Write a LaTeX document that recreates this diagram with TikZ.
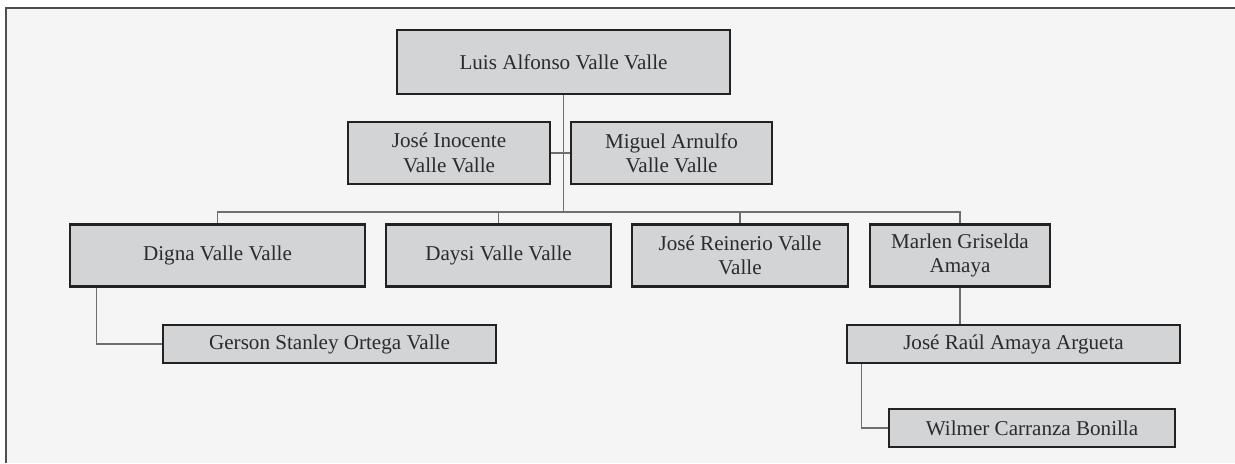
\documentclass[tikz,border=0pt]{standalone}
\usepackage{fontspec}
\setmainfont{Liberation Serif}
\usepackage{tikz}
\usetikzlibrary{calc, positioning}
\definecolor{PageGrey}{HTML}{F5F5F5}
\definecolor{BoxGrey}{HTML}{D3D4D6}
\definecolor{EdgeDark}{HTML}{222222}
\definecolor{TwigGrey}{HTML}{6E6E6E}
\definecolor{InkGrey}{HTML}{2B2B2B}

\begin{document}
\begin{tikzpicture}[
  x=0.025cm, y=-0.025cm,
  font=\fontsize{15}{17.4}\selectfont,
  namebox/.style={draw=EdgeDark, fill=BoxGrey, line width=2pt, text=InkGrey,
    align=center, inner sep=0pt, minimum height=1.55cm},
  slimbox/.style={namebox, minimum height=0.95cm},
  twig/.style={draw=TwigGrey, line width=0.75pt}
]
\useasboundingbox (0,0) rectangle (1235,463);
\fill[PageGrey] (6,8) rectangle (1235,463);
\draw[EdgeDark!80, line width=1.4pt] (1235,8) -- (6,8) -- (6,463);

\node[namebox, minimum width=8.325cm, minimum height=1.6cm] (luis) at (563.5,62) {Luis Alfonso Valle Valle};
\node[namebox, minimum width=5.05cm] (inocente) at (449,153) {José Inocente\\Valle Valle};
\node[namebox, minimum width=5.025cm] (miguel) at (671.5,153) {Miguel Arnulfo\\Valle Valle};

\node[namebox, minimum width=7.375cm] (digna) at (217.5,255.5) {Digna Valle Valle};
\node[namebox, minimum width=5.625cm] (daysi) at (498.5,255.5) {Daysi Valle Valle};
\node[namebox, minimum width=5.4cm] (reinerio) at (740,255.5) {José Reinerio Valle\\Valle};
\node[namebox, minimum width=4.5cm] (marlen) at (960,255.5) {Marlen Griselda\\Amaya};

\node[slimbox, minimum width=8.325cm] (gerson) at (329.5,344) {Gerson Stanley Ortega Valle};
\node[slimbox, minimum width=8.325cm] (raul) at (1013.5,344) {José Raúl Amaya Argueta};
\node[slimbox, minimum width=7.15cm] (wilmer) at (1032,428) {Wilmer Carranza Bonilla};

% trunk and branches
\coordinate (hub) at (luis.south |- 0,212);
\draw[twig] (luis.south) -- (hub);
\draw[twig] (inocente.east) -- (miguel.west);
\draw[twig] (hub) -| (digna.north);
\draw[twig] (hub) -| (daysi.north);
\draw[twig] (hub) -| (reinerio.north);
\draw[twig] (hub) -| (marlen.north);
\draw[twig] (marlen.south) -- (marlen.south |- raul.north);
\draw[twig] ([xshift=0.7cm]digna.south west) |- (gerson.west);
\draw[twig] ([xshift=0.4cm]raul.south west) |- (wilmer.west);
\end{tikzpicture}
\end{document}
